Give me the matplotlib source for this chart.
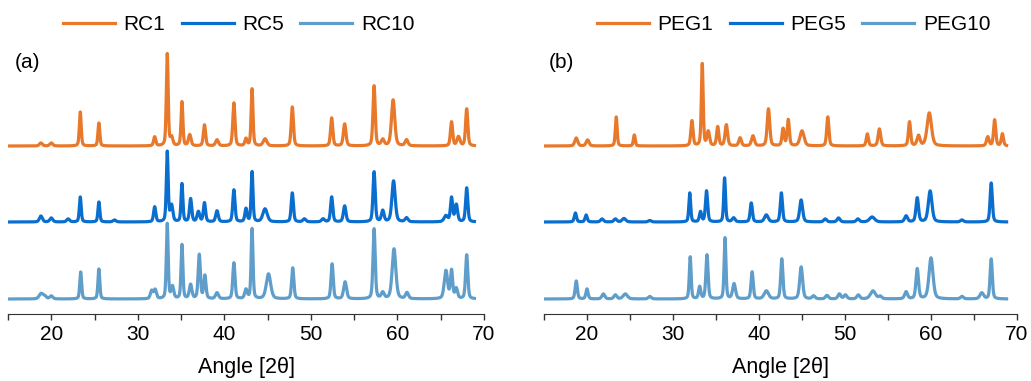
import numpy as np
import matplotlib
matplotlib.use("Agg")
import matplotlib.pyplot as plt

plt.rcParams['font.family'] = ['Liberation Sans', 'DejaVu Sans']

# peaks: (2theta, height, fwhm)
rc1_peaks = [(18.8, 3, 0.4), (20.0, 3, 0.4), (23.35, 34, 0.25), (25.5, 23, 0.25),
             (31.95, 9, 0.3), (33.4, 92, 0.25), (33.9, 8, 0.35), (35.1, 44, 0.25),
             (36.0, 11, 0.35), (37.7, 21, 0.3), (39.15, 6, 0.4), (41.1, 43, 0.3),
             (42.5, 7, 0.3), (43.2, 57, 0.25), (44.7, 7, 0.5), (47.85, 39, 0.3),
             (52.4, 28, 0.3), (53.9, 22, 0.35), (57.3, 60, 0.3), (58.3, 6, 0.4),
             (59.5, 46, 0.45), (61.05, 6, 0.4), (66.25, 24, 0.3), (67.05, 9, 0.4),
             (68.0, 37, 0.3)]
rc5_peaks = [(18.8, 6, 0.4), (20.0, 4, 0.4), (21.95, 3, 0.4), (23.35, 25, 0.25),
             (25.5, 20, 0.25), (27.3, 2, 0.4), (31.95, 15, 0.3), (33.4, 70, 0.25),
             (33.9, 16, 0.35), (35.1, 38, 0.25), (36.1, 23, 0.3), (37.0, 10, 0.35),
             (37.7, 19, 0.3), (39.15, 11, 0.35), (41.1, 32, 0.3), (42.5, 13, 0.3),
             (43.2, 50, 0.25), (44.7, 13, 0.6), (47.85, 29, 0.3), (49.25, 3, 0.4),
             (51.4, 3, 0.4), (52.4, 25, 0.3), (53.9, 16, 0.35), (57.3, 50, 0.3),
             (58.3, 11, 0.35), (59.55, 41, 0.45), (61.05, 4, 0.4), (65.6, 6, 0.5),
             (66.25, 24, 0.3), (66.8, 17, 0.35), (68.0, 34, 0.3)]
rc10_peaks = [(18.8, 5, 0.5), (19.2, 3, 0.5), (20.0, 3, 0.4), (23.4, 27, 0.25),
              (25.5, 30, 0.25), (31.6, 8, 0.35), (32.0, 9, 0.35), (33.4, 75, 0.25),
              (34.0, 12, 0.35), (35.1, 54, 0.25), (36.1, 14, 0.35), (37.1, 44, 0.3),
              (37.75, 23, 0.3), (39.15, 6, 0.4), (41.1, 36, 0.3), (42.5, 9, 0.35),
              (43.2, 70, 0.25), (45.1, 25, 0.6), (47.9, 31, 0.3), (52.45, 35, 0.3),
              (53.95, 17, 0.4), (57.3, 70, 0.3), (58.3, 6, 0.4), (59.6, 50, 0.5),
              (61.1, 6, 0.4), (65.6, 28, 0.45), (66.25, 28, 0.3), (66.8, 10, 0.35),
              (68.0, 44, 0.3)]

peg1_peaks = [(18.75, 8, 0.4), (20.07, 6, 0.4), (23.4, 29, 0.25), (25.5, 11, 0.25),
              (32.2, 25, 0.3), (33.4, 82, 0.25), (34.1, 14, 0.35), (35.2, 19, 0.3),
              (36.2, 21, 0.35), (37.8, 8, 0.35), (39.3, 10, 0.4), (41.1, 37, 0.35),
              (42.8, 17, 0.3), (43.4, 26, 0.3), (45.0, 15, 0.55), (48.0, 29, 0.3),
              (52.6, 12, 0.3), (54.0, 17, 0.35), (57.5, 24, 0.3), (58.55, 10, 0.4),
              (59.8, 33, 0.6), (66.6, 9, 0.35), (67.4, 26, 0.3), (68.3, 12, 0.3)]
peg5_peaks = [(18.65, 9, 0.3), (19.9, 7, 0.3), (21.75, 3, 0.4), (23.3, 3, 0.4),
              (24.3, 3.5, 0.5), (27.3, 1.5, 0.4), (31.95, 29, 0.25), (33.2, 10, 0.3),
              (33.9, 31, 0.3), (36.0, 44, 0.25), (37.05, 4, 0.4), (39.1, 19, 0.3),
              (40.85, 7, 0.5), (42.6, 29, 0.3), (44.9, 22, 0.4), (47.7, 3, 0.4),
              (49.25, 4, 0.4), (51.5, 3, 0.4), (53.15, 5, 0.7), (57.1, 6, 0.4),
              (58.4, 24, 0.35), (59.9, 31, 0.5), (63.6, 2, 0.4), (67.0, 39, 0.3)]
peg10_peaks = [(18.75, 18, 0.3), (20.0, 10, 0.3), (21.9, 5, 0.4), (23.3, 4, 0.4),
               (24.45, 5, 0.6), (27.3, 2.5, 0.4), (32.0, 42, 0.25), (33.1, 12, 0.3),
               (33.95, 44, 0.3), (36.05, 61, 0.25), (37.1, 15, 0.4), (39.2, 27, 0.3),
               (40.85, 8, 0.6), (42.65, 40, 0.3), (44.9, 32, 0.4), (46.35, 3, 0.4),
               (47.9, 3.5, 0.4), (49.35, 5, 0.4), (50.05, 4, 0.4), (51.55, 4, 0.4),
               (53.25, 8, 0.7), (54.1, 2.5, 0.4), (57.1, 7, 0.4), (58.4, 30, 0.35),
               (60.0, 41, 0.55), (63.6, 2.5, 0.4), (65.9, 6, 0.5), (67.0, 40, 0.3)]

offsets = [153, 77, 0]
colors = ['#E8782A', '#0A6ECE', '#5F9DCA']
labels_a = ['RC1', 'RC5', 'RC10']
labels_b = ['PEG1', 'PEG5', 'PEG10']


def pattern(x, peaks):
    y = np.zeros_like(x)
    for pos, h, w in peaks:
        g = np.exp(-4 * np.log(2) * ((x - pos) / w) ** 2)
        l = 1 / (1 + 4 * ((x - pos) / w) ** 2)
        y += h * (0.6 * g + 0.4 * l)
    return y


fig = plt.figure(figsize=(10.31, 3.81), dpi=100)
ax1 = fig.add_axes([8 / 1031, 67 / 381, 476 / 1031, 269 / 381])
ax2 = fig.add_axes([544 / 1031, 67 / 381, 473 / 1031, 269 / 381])

xa = np.arange(15.1, 68.9, 0.01)
xb = np.arange(15.0, 68.8, 0.01)

for ax, x, sets, labels in [(ax1, xa, [rc1_peaks, rc5_peaks, rc10_peaks], labels_a),
                            (ax2, xb, [peg1_peaks, peg5_peaks, peg10_peaks], labels_b)]:
    for peaks, off, c, lab in zip(sets, offsets, colors, labels):
        ax.plot(x, pattern(x, peaks) + off, color=c, lw=2.3, label=lab,
                solid_joinstyle='round')
    ax.set_xlim(15, 70)
    ax.set_ylim(-15, 254)
    ax.set_xticks(np.arange(20, 71, 10))
    ax.set_xticks(np.arange(15, 71, 5), minor=True)
    ax.tick_params(axis='x', which='both', direction='out', length=4, width=1,
                   labelsize=15, pad=4, color='#333333')
    ax.set_yticks([])
    for s in ['top', 'right', 'left']:
        ax.spines[s].set_visible(False)
    ax.spines['bottom'].set_color('#333333')
    ax.set_xlabel('Angle [2θ]', fontsize=15.5, labelpad=9)

ax1.text(15 / 1031, 1 - 63 / 381, '(a)', transform=fig.transFigure,
         fontsize=15, va='center', ha='left')
ax2.text(549 / 1031, 1 - 63 / 381, '(b)', transform=fig.transFigure,
         fontsize=15, va='center', ha='left')

for ax, cx in [(ax1, 238.5 / 1031), (ax2, 793.5 / 1031)]:
    ax.legend(loc='center', bbox_to_anchor=(cx, 1 - 25 / 381),
              bbox_transform=fig.transFigure, ncol=3, frameon=False,
              fontsize=15, handlelength=2.5, handletextpad=0.4,
              columnspacing=0.8, borderaxespad=0)

fig.savefig('out.png', dpi=100)
